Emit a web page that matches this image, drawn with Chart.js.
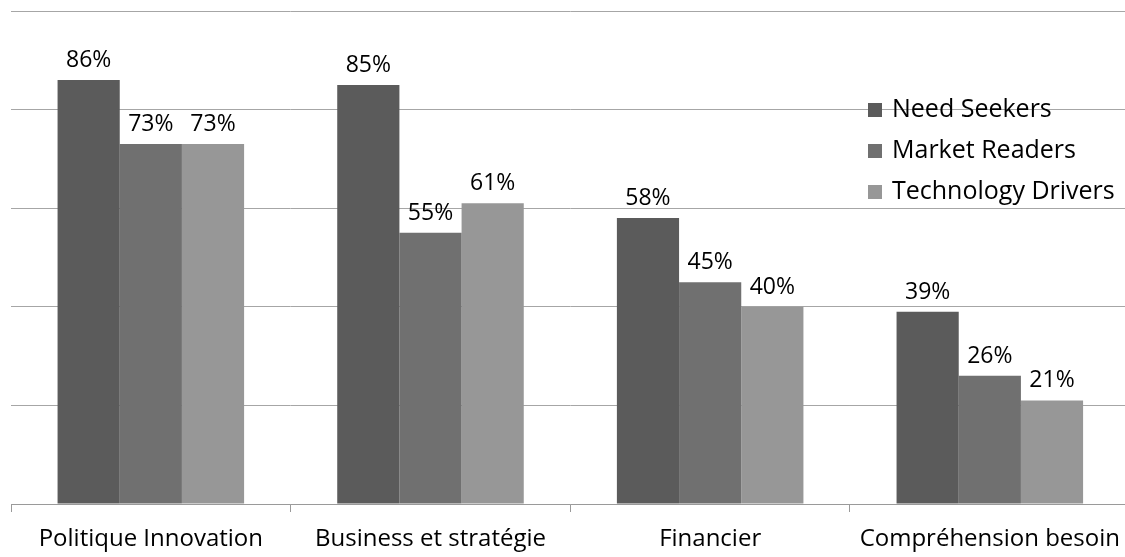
<!DOCTYPE html>
<html>
<head>
<meta charset="utf-8">
<script src="https://cdn.jsdelivr.net/npm/chart.js@4/dist/chart.umd.min.js"></script>
<style>
  html, body { margin: 0; padding: 0; background: #fff; overflow: hidden; }
  #wrap { width: 1133px; height: 557px; position: relative; }
</style>
</head>
<body>
<div id="wrap"><canvas id="chart"></canvas></div>
<script>
// data
const categories = ["Politique Innovation", "Business et stratégie", "Financier", "Compréhension besoin"];
const needSeekers = [86, 85, 58, 39];
const marketReaders = [73, 55, 45, 26];
const techDrivers = [73, 61, 40, 21];
const seriesNames = ["Need Seekers", "Market Readers", "Technology Drivers"];
const seriesColors = ["#5b5b5b", "#707070", "#979797"];

const FONT = "'Open Sans', sans-serif";

// percent labels on top of the bars
const valueLabels = {
  id: "valueLabels",
  afterDatasetsDraw(chart) {
    const ctx = chart.ctx;
    ctx.save();
    ctx.font = "23px " + FONT;
    ctx.fillStyle = "#000";
    ctx.textAlign = "center";
    ctx.textBaseline = "alphabetic";
    chart.data.datasets.forEach((ds, i) => {
      chart.getDatasetMeta(i).data.forEach((bar, j) => {
        ctx.fillText(ds.data[j] + "%", bar.x, bar.y - 13);
      });
    });
    ctx.restore();
  }
};

// legend drawn over the plot, top right
const floatLegend = {
  id: "floatLegend",
  afterDraw(chart) {
    const ctx = chart.ctx;
    ctx.save();
    ctx.font = "25px " + FONT;
    ctx.textBaseline = "middle";
    ctx.textAlign = "left";
    chart.data.datasets.forEach((ds, i) => {
      const y = 110 + i * 41;
      ctx.fillStyle = ds.backgroundColor;
      ctx.fillRect(868, y - 7, 14, 14);
      ctx.fillStyle = "#000";
      ctx.fillText(ds.label, 892, y);
    });
    ctx.restore();
  }
};

new Chart("chart", {
  type: "bar",
  data: {
    labels: categories,
    datasets: [
      { label: seriesNames[0], data: needSeekers, backgroundColor: seriesColors[0] },
      { label: seriesNames[1], data: marketReaders, backgroundColor: seriesColors[1] },
      { label: seriesNames[2], data: techDrivers, backgroundColor: seriesColors[2] }
    ]
  },
  options: {
    responsive: true,
    maintainAspectRatio: false,
    animation: false,
    layout: { padding: { left: 11, top: 11, right: 0, bottom: 0 } },
    datasets: { bar: { categoryPercentage: 0.667, barPercentage: 1.0 } },
    plugins: {
      legend: { display: false },
      tooltip: { enabled: false }
    },
    scales: {
      x: {
        afterFit(scale) { scale.height = 53; },
        grid: { offset: true, drawOnChartArea: false, drawTicks: true, tickLength: 8, color: "#9a9a9a" },
        border: { display: true, color: "#9a9a9a", width: 1 },
        ticks: { color: "#000", font: { family: FONT, size: 24 }, padding: 13, maxRotation: 0, autoSkip: false }
      },
      y: {
        min: 0,
        max: 100,
        ticks: { stepSize: 20, display: false },
        grid: { color: "#a6a6a6", drawTicks: false, lineWidth: 1 },
        border: { display: false }
      }
    }
  },
  plugins: [valueLabels, floatLegend]
});
</script>
</body>
</html>
